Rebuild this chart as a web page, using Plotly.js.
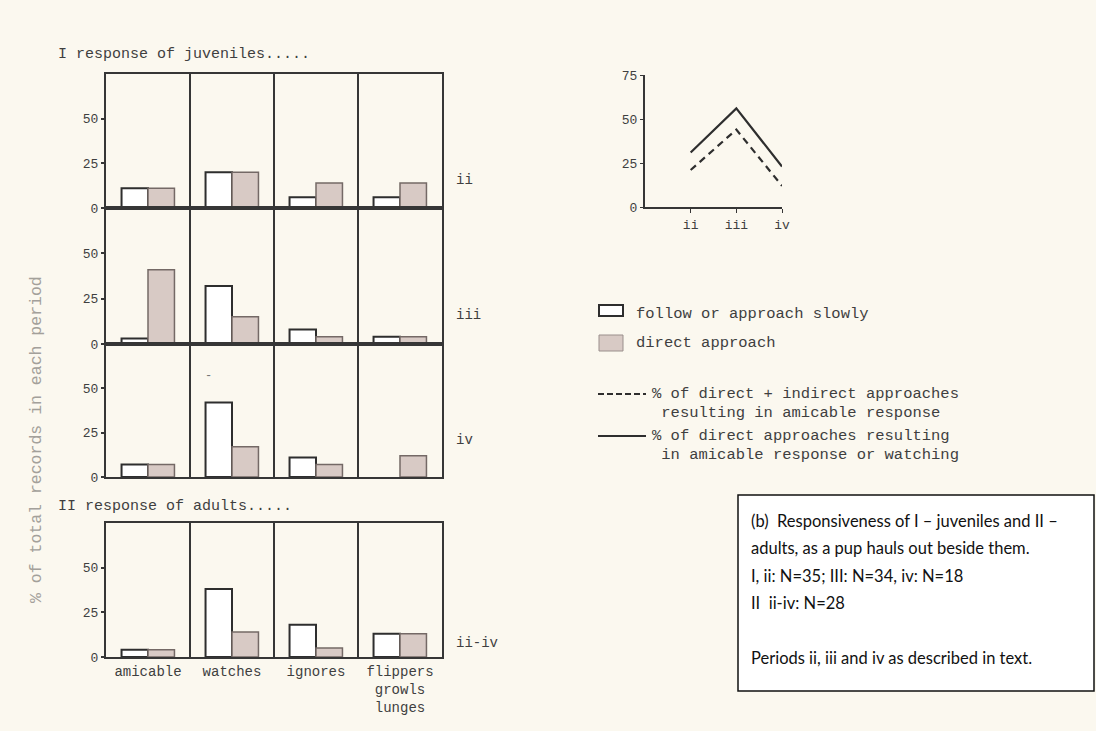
<!DOCTYPE html>
<html><head><meta charset="utf-8">
<script src="https://cdn.plot.ly/plotly-3.0.1.min.js"></script>
<style>html,body{margin:0;padding:0;background:#fbf8ef}</style>
</head><body><div id="chart" style="width:1096px;height:731px"></div>
<script>
// ---------- data ----------
const categories = ['amicable', 'watches', 'ignores', 'flippers<br>growls<br>lunges'];
const periodLabels = ['ii', 'iii', 'iv', 'ii-iv'];
const followJuvII  = [11, 20, 6, 6];
const directJuvII  = [11, 20, 14, 14];
const followJuvIII = [3, 32, 8, 4];
const directJuvIII = [41, 15, 4, 4];
const followJuvIV  = [7, 42, 11, 0];
const directJuvIV  = [7, 17, 7, 12];
const followAdults = [4, 38, 18, 13];
const directAdults = [4, 14, 5, 13];
const linePeriods = ['ii', 'iii', 'iv'];
const pctAmicableAll = [21, 44, 12];          // dashed
const pctDirectAmicableWatch = [31, 56, 23];  // solid
const barTicks = [0, 25, 50];
const lineTicks = [0, 25, 50, 75];

// ---------- helpers ----------
const W = 1096, H = 731;
const px = x => x / W;
const py = y => 1 - y / H;
const MONO = 'Liberation Mono, Courier New, monospace';
const INK = '#3f3f3f';
const AX = '#363636';

const panels = [
  {f: followJuvII,  d: directJuvII,  top: 74,  bot: 208, lab: periodLabels[0], labY: 180},
  {f: followJuvIII, d: directJuvIII, top: 208, bot: 344, lab: periodLabels[1], labY: 315},
  {f: followJuvIV,  d: directJuvIV,  top: 344, bot: 477, lab: periodLabels[2], labY: 440},
  {f: followAdults, d: directAdults, top: 523, bot: 657, lab: periodLabels[3], labY: 643}
];

const traces = [];
const layout = {
  width: W, height: H,
  margin: {l: 0, r: 0, t: 0, b: 0},
  paper_bgcolor: '#fbf8ef', plot_bgcolor: 'rgba(0,0,0,0)',
  showlegend: false, barmode: 'group', bargap: 0.37, bargroupgap: 0,
  shapes: [], annotations: []
};

panels.forEach((p, i) => {
  const n = i === 0 ? '' : String(i + 1);
  const xa = 'x' + n, ya = 'y' + n;
  traces.push({type: 'bar', x: categories, y: p.f, xaxis: xa, yaxis: ya,
    marker: {color: '#ffffff', line: {color: '#2e2e2e', width: p.f.map(v => v > 0 ? 2 : 0)}}});
  traces.push({type: 'bar', x: categories, y: p.d, xaxis: xa, yaxis: ya,
    marker: {color: '#d8cac5', line: {color: '#746966', width: p.d.map(v => v > 0 ? 1.5 : 0)}}});
  layout['xaxis' + n] = {
    domain: [px(106), px(442)], anchor: ya, type: 'category',
    categoryorder: 'array', categoryarray: categories, range: [-0.5, 3.5],
    showline: true, mirror: true, linecolor: AX, linewidth: 2,
    ticks: '', showgrid: false, zeroline: false,
    showticklabels: i === 3, tickfont: {family: MONO, size: 14, color: INK}
  };
  layout['yaxis' + n] = {
    domain: [py(p.bot), py(p.top)], anchor: xa, range: [0, 75],
    tickvals: barTicks, ticks: 'outside', ticklen: 3, tickcolor: AX, tickwidth: 2,
    showline: true, mirror: true, linecolor: AX, linewidth: 2,
    showgrid: false, zeroline: false,
    tickfont: {family: MONO, size: 13, color: INK}
  };
  [0.5, 1.5, 2.5].forEach(v => layout.shapes.push({
    type: 'line', xref: xa, yref: ya + ' domain', x0: v, x1: v, y0: 0, y1: 1,
    line: {color: AX, width: 2}
  }));
  layout.annotations.push({xref: 'paper', yref: 'paper', x: px(454), y: py(p.labY),
    text: p.lab, showarrow: false, xanchor: 'left', yanchor: 'middle',
    font: {family: MONO, size: 14, color: INK}});
});

// line chart
traces.push({type: 'scatter', mode: 'lines', x: linePeriods, y: pctDirectAmicableWatch,
  xaxis: 'x5', yaxis: 'y5', line: {color: '#2e2e2e', width: 2.2}});
traces.push({type: 'scatter', mode: 'lines', x: linePeriods, y: pctAmicableAll,
  xaxis: 'x5', yaxis: 'y5', line: {color: '#2e2e2e', width: 2.2, dash: '7px,5px'}});
layout.xaxis5 = {domain: [px(645), px(782)], anchor: 'y5', type: 'category',
  categoryorder: 'array', categoryarray: linePeriods, range: [-1, 2],
  showline: true, linecolor: AX, linewidth: 2, ticks: 'outside', ticklen: 4,
  tickcolor: AX, showgrid: false, zeroline: false,
  tickfont: {family: MONO, size: 13, color: INK}};
layout.yaxis5 = {domain: [py(207), py(75)], anchor: 'x5', range: [0, 75],
  tickvals: lineTicks, ticks: 'outside', ticklen: 3, tickcolor: AX,
  showline: true, linecolor: AX, linewidth: 2, showgrid: false, zeroline: false,
  tickfont: {family: MONO, size: 13, color: INK}};

// texts
const txt = (x, y, t, opt = {}) => layout.annotations.push(Object.assign({
  xref: 'paper', yref: 'paper', x: px(x), y: py(y), text: t, showarrow: false,
  xanchor: 'left', yanchor: 'middle', font: {family: MONO, size: 15, color: INK}
}, opt));
txt(56, 54, 'I response of juveniles.....');
txt(56, 506, 'II response of adults.....');
txt(36, 440, '% of total records in each period', {xanchor: 'center', textangle: -90,
  font: {family: MONO, size: 16.5, color: '#a3a09a'}});
txt(208, 376, '-', {xanchor: 'center', font: {family: MONO, size: 12, color: '#777'}});

// legend
layout.shapes.push({type: 'rect', xref: 'paper', yref: 'paper', x0: px(599), x1: px(623), y0: py(316), y1: py(305),
  fillcolor: '#ffffff', line: {color: '#2e2e2e', width: 2}});
layout.shapes.push({type: 'rect', xref: 'paper', yref: 'paper', x0: px(599), x1: px(623), y0: py(351), y1: py(335),
  fillcolor: '#d8cac5', line: {color: '#9a8f8c', width: 1}});
layout.shapes.push({type: 'line', xref: 'paper', yref: 'paper', x0: px(598), x1: px(646), y0: py(394), y1: py(394),
  line: {color: '#2e2e2e', width: 2, dash: '6px,3px'}});
layout.shapes.push({type: 'line', xref: 'paper', yref: 'paper', x0: px(598), x1: px(646), y0: py(436), y1: py(436),
  line: {color: '#2e2e2e', width: 2}});
const LF = {family: MONO, size: 15.5, color: INK};
txt(634, 314, 'follow or approach slowly', {font: LF});
txt(634, 343, 'direct approach', {font: LF});
txt(650, 394, '% of direct + indirect approaches', {font: LF});
txt(650, 413, ' resulting in amicable response', {font: LF});
txt(650, 436, '% of direct approaches resulting', {font: LF});
txt(650, 455, ' in amicable response or watching', {font: LF});

// caption box
layout.shapes.push({type: 'rect', xref: 'paper', yref: 'paper', x0: px(738), x1: px(1094), y0: py(691), y1: py(495),
  fillcolor: '#ffffff', line: {color: '#111', width: 1.5}});
const SANS = 'Lato, Carlito, Noto Sans, sans-serif';
const cap = ['(b)\u00a0 Responsiveness of I \u2013 juveniles and II \u2013',
  'adults, as a pup hauls out beside them.',
  'I, ii: N=35; III: N=34, iv: N=18',
  'II\u00a0 ii-iv: N=28',
  'Periods ii, iii and iv as described in text.'];
const capY = [521, 548, 576, 603, 658];
cap.forEach((c, k) => txt(749, capY[k], c, {font: {family: SANS, size: 16.5, color: '#111'}}));

Plotly.newPlot('chart', traces, layout, {staticPlot: true, displayModeBar: false});
</script></body></html>
